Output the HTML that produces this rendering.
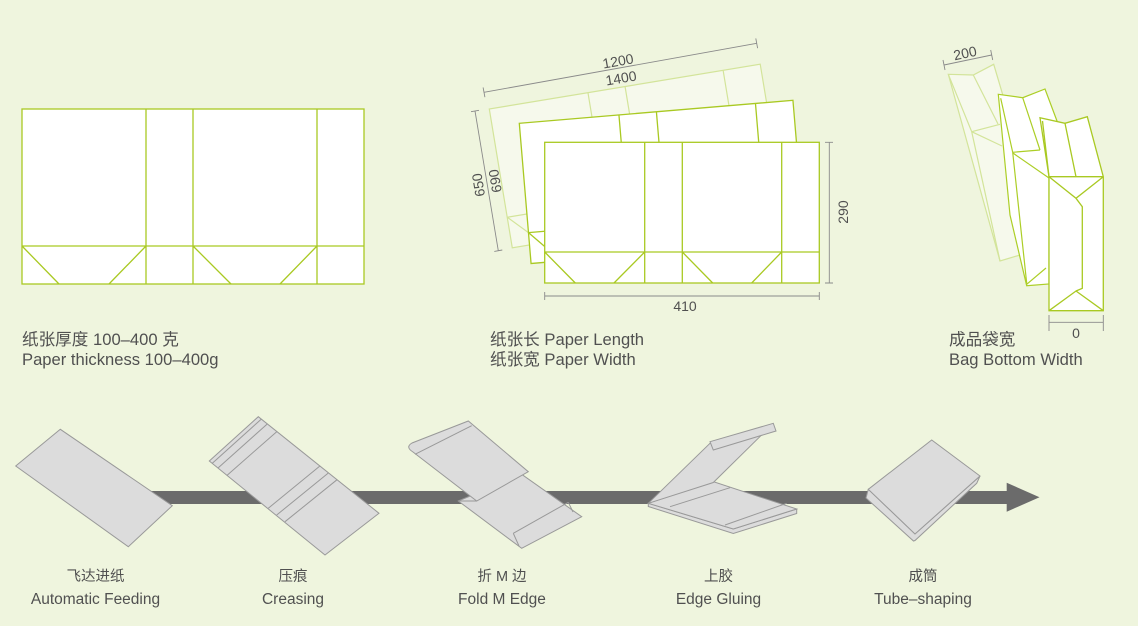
<!DOCTYPE html>
<html><head><meta charset="utf-8">
<style>
html,body{margin:0;padding:0;background:#eff5de;}
svg{display:block;}
text{font-family:"Liberation Sans","Noto Sans CJK SC",sans-serif;fill:#505050;}
</style></head><body>
<svg width="1138" height="626" viewBox="0 0 1138 626" xmlns="http://www.w3.org/2000/svg">
<rect width="1138" height="626" fill="#eff5de"/>
<defs>
<g id="sheet">
 <rect x="0" y="0" width="274.6" height="140.7"/>
 <path fill="none" d="M100 0V140.7M137.6 0V140.7M237 0V140.7M0 109.7H274.6M0 109.7L30.6 140.7M100 109.7L69.3 140.7M137.6 109.7L168 140.7M237 109.7L207 140.7"/>
</g>
</defs>

<!-- Left flat paper -->
<g fill="#fff" stroke="#a9c922" stroke-width="1.3">
<rect x="22" y="109" width="342" height="175"/>
<path fill="none" d="M146 109V284M193 109V284M317 109V284M22 246H364M22 246L59 284M146 246L109 284M193 246L231 284M317 246L280 284"/>
</g>

<!-- Middle stacked sheets -->
<use href="#sheet" transform="translate(489.3,109) rotate(-9.4)" fill="#f6f9ec" stroke="#d3e49a" stroke-width="1.2"/>
<use href="#sheet" transform="translate(519.3,123.3) rotate(-4.8)" fill="#ffffff" stroke="#a9c922" stroke-width="1.3"/>
<use href="#sheet" transform="translate(544.7,142.3)" fill="#ffffff" stroke="#a9c922" stroke-width="1.3"/>

<!-- dimension lines middle -->
<g stroke="#8a8a8a" stroke-width="0.9" fill="none">
<path d="M484 92.3L756.7 43.3M483.1 87.4L484.9 97.2M755.8 38.4L757.6 48.2"/>
<path d="M475 111L498.3 250.7M471 111.7L479 110.3M494.3 251.4L502.3 250"/>
<path d="M829.3 142.3V283M825 142.3H833M825 283H833"/>
<path d="M544.7 296H819.3M544.7 292V300M819.3 292V300"/>
</g>
<g font-size="14">
<text x="618" y="66" text-anchor="middle" transform="rotate(-10.2 618 61)">1200</text>
<text x="621" y="83" text-anchor="middle" transform="rotate(-9.4 621 78)">1400</text>
<text x="478.3" y="190" text-anchor="middle" transform="rotate(-99.5 478.3 185)">650</text>
<text x="495" y="186" text-anchor="middle" transform="rotate(-99.5 495 181)">690</text>
<text x="843" y="217" text-anchor="middle" transform="rotate(-90 843 212)">290</text>
<text x="685" y="311" text-anchor="middle">410</text>
</g>

<!-- Right bags -->
<g stroke="#d3e49a" stroke-width="1.2" fill="#f6f9ec">
<polygon points="948.3,74.3 973.3,75 993.7,64.3 1012,126 1020,255 1000,261"/>
<path fill="none" d="M973.3 75L998 124M971.7 131.7L1000 124.3M948.3 74.3L971.7 131.7L1000 261M971.7 131.7L1002 146"/>
</g>
<g stroke="#acce26" stroke-width="1.2" fill="#fff">
<polygon points="998.3,94.3 1022.7,97.7 1045,89 1057,121 1049,176.7 1049,284 1026.7,285.7 1010,215"/>
<path fill="none" d="M1000.7 98.3L1012.7 152.3L1026.7 283.3M1022.7 97.7L1040 150M1012.7 152.3L1040 150M1013.3 153.3L1049 178M1026.7 284.3L1046 268"/>
</g>
<g stroke="#a9c922" stroke-width="1.3" fill="#fff">
<polygon points="1040,117.7 1065,123.3 1087.3,116.7 1103.3,176.7 1103.3,310.7 1049,310.7 1049,176.7"/>
<path fill="none" d="M1042.5 121L1049 176.7M1049 176.7H1103.3M1065 123.3L1076 176.7M1049 176.7L1076 198.3L1103.3 176.7M1049 310.7L1076 291L1103.3 310.7M1076 198.3L1082.3 206.7V288.3L1076 291"/>
</g>
<g stroke="#8a8a8a" stroke-width="0.9" fill="none">
<path d="M944 65L991.7 55M943 60L945 70M990.7 50L992.7 60"/>
<path d="M1049 322.3H1103.3M1049 315V331M1103.3 315V331"/>
</g>
<g font-size="14">
<text x="965" y="58" text-anchor="middle" transform="rotate(-12 965 53)">200</text>
<text x="1076" y="338" text-anchor="middle">0</text>
</g>

<!-- Top labels -->
<g font-size="16.6">
<text x="22" y="345">纸张厚度 100–400 克</text>
<text x="22" y="365">Paper thickness 100–400g</text>
<text x="490" y="345">纸张长 Paper Length</text>
<text x="490" y="365">纸张宽 Paper Width</text>
<text x="949" y="345">成品袋宽</text>
<text x="949" y="365">Bag Bottom Width</text>
</g>

<!-- Process arrow -->
<rect x="120" y="491" width="888" height="13" fill="#6b6b6b"/>
<polygon points="1006.7,482.7 1039.5,497.3 1006.7,511.7" fill="#6b6b6b"/>

<g fill="#dcdcdc" stroke="#999" stroke-width="1">
<!-- 1 feeding -->
<polygon points="15.7,466 60.3,429.3 172.3,505.7 128.3,546.7"/>
<!-- 2 creasing -->
<polygon points="209.3,461 258.3,416.7 379,513.3 325,555"/>
<path fill="none" d="M212.2,463.4L261.3,419.1M218.3,467.7L267.4,423.9M227.3,475.1L276.7,431.7M268.3,508.3L319.9,466.0M276.7,515L328.5,472.9M285,521.7L336.9,479.8"/>
<!-- 3 fold M -->
<polygon points="458.3,501 521.7,474.3 581.7,516.7 521.7,548.3"/>
<path fill="none" d="M513.3,533.3L568.3,502.3M513.3,533.3L519,546M568.3,502.3L573,512"/>
<path d="M413,452 Q405,447 412,443 L468.3,421 L528.3,471.7 L476.7,501 Z"/>
<path fill="none" d="M415,454.3L471.7,425.7M476.7,501L458.3,501"/>
<!-- 4 gluing -->
<polygon points="648.3,503.3 733.3,529 796.7,509 796.7,513.5 733.3,533.5 648.3,506.5"/>
<polygon points="648.3,503.3 713.3,481.7 796.7,509 733.3,529"/>
<path fill="none" d="M670,506.7L730,487.7M725,525L786.7,503.3"/>
<polygon points="648.3,503.3 710,443.3 763.3,433.3 713.3,482.5"/>
<polygon points="710,441.7 773.3,423.3 776,431 713.3,450"/>
<!-- 5 tube -->
<polygon points="868.3,489.3 866,498 913.5,541 915,540.5 976.7,483.3 980,476 915,534"/>
<polygon points="868.3,489.3 931.7,440 980,476 915,534"/>
</g>

<!-- Bottom labels -->
<g text-anchor="middle">
<g font-size="14.5">
<text x="95.5" y="581">飞达进纸</text>
<text x="293" y="581">压痕</text>
<text x="502" y="581">折 M 边</text>
<text x="718.5" y="581">上胶</text>
<text x="923" y="581">成筒</text>
</g>
<g font-size="15.5">
<text x="95.5" y="604">Automatic Feeding</text>
<text x="293" y="604">Creasing</text>
<text x="502" y="604">Fold M Edge</text>
<text x="718.5" y="604">Edge Gluing</text>
<text x="923" y="604">Tube–shaping</text>
</g>
</g>
</svg>
</body></html>
